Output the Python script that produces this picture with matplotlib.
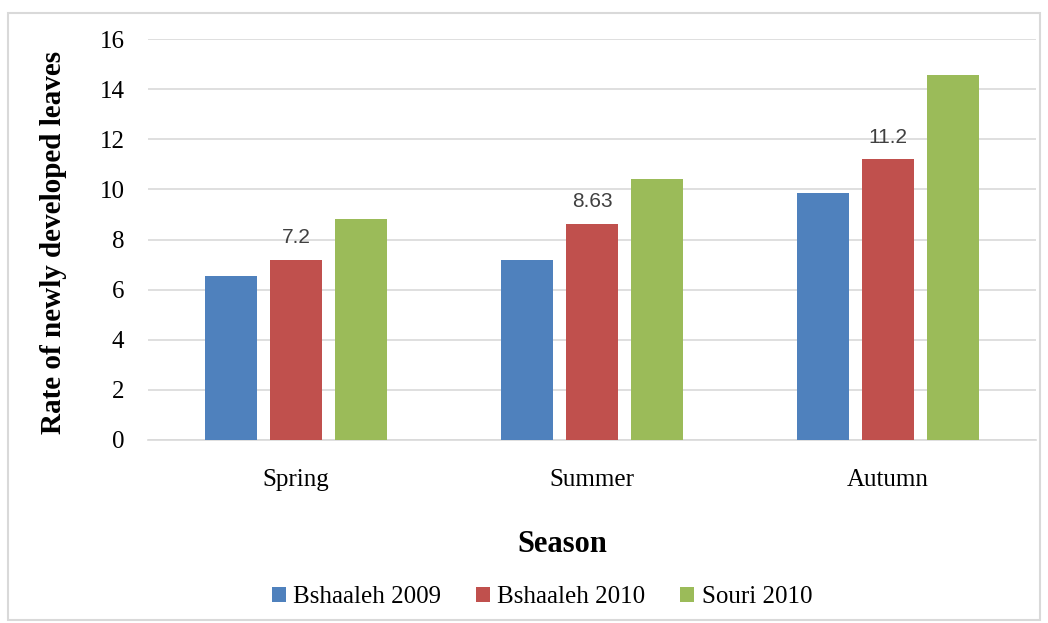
import matplotlib
matplotlib.use("Agg")
import matplotlib.pyplot as plt
import numpy as np
from matplotlib.patches import Rectangle

seasons = ["Spring", "Summer", "Autumn"]
series_names = ["Bshaaleh 2009", "Bshaaleh 2010", "Souri 2010"]
bshaaleh_2009 = [6.55, 7.2, 9.85]
bshaaleh_2010 = [7.2, 8.63, 11.2]
souri_2010 = [8.8, 10.4, 14.55]
label_texts = ["7.2", "8.63", "11.2"]
colors = ["#4F81BD", "#C0504D", "#9BBB59"]

plt.rcParams['font.family'] = ['Liberation Serif', 'DejaVu Serif']

fig = plt.figure(figsize=(10.48, 6.23), dpi=100)
ax = fig.add_axes([148/1048, 1-440/623, (1036-148)/1048, (440-39)/623])

x = np.arange(len(seasons))
w = 0.175
off = 0.22
all_series = [bshaaleh_2009, bshaaleh_2010, souri_2010]
bars = []
for i, (vals, name, c) in enumerate(zip(all_series, series_names, colors)):
    b = ax.bar(x + (i-1)*off, vals, width=w, color=c, label=name, zorder=3)
    bars.append(b)

for rect, txt in zip(bars[1], label_texts):
    ax.text(rect.get_x()+rect.get_width()/2, rect.get_height()+0.5, txt,
            ha='center', va='bottom', fontsize=15, color='#404040',
            family=['Liberation Sans', 'DejaVu Sans'])

ax.set_xlim(-0.5, 2.5)
ax.set_ylim(0, 16)
ax.set_yticks(range(0, 17, 2))
ax.set_xticks(x)
ax.set_xticklabels(seasons)
ax.yaxis.grid(True, color='#D9D9D9', linewidth=1.2, zorder=0)
ax.set_axisbelow(True)
for s in ['top', 'right', 'left']:
    ax.spines[s].set_visible(False)
ax.spines['bottom'].set_color('#D9D9D9')
ax.spines['bottom'].set_linewidth(1.2)
ax.tick_params(axis='both', length=0, labelsize=18)
ax.tick_params(axis='y', pad=17)
ax.tick_params(axis='x', pad=21)

fig.text(54/1048, 1-242/623, "Rate of newly developed leaves", rotation=90,
         ha='center', va='center', fontsize=21, fontweight='bold')
fig.text(562/1048, 1-545/623, "Season", ha='center', va='center',
         fontsize=22, fontweight='bold')

fig.legend(handles=bars, labels=series_names, loc='center',
           bbox_to_anchor=(542/1048, 1-597/623), ncol=3, frameon=False,
           fontsize=18, handlelength=0.55, handleheight=0.55, handletextpad=0.3,
           columnspacing=1.4)

fig.patches.append(Rectangle((8/1048, 3/623), 1032/1048, 607/623,
                             transform=fig.transFigure, fill=False,
                             edgecolor='#D9D9D9', linewidth=1.5))

fig.savefig("out.png", dpi=100)
